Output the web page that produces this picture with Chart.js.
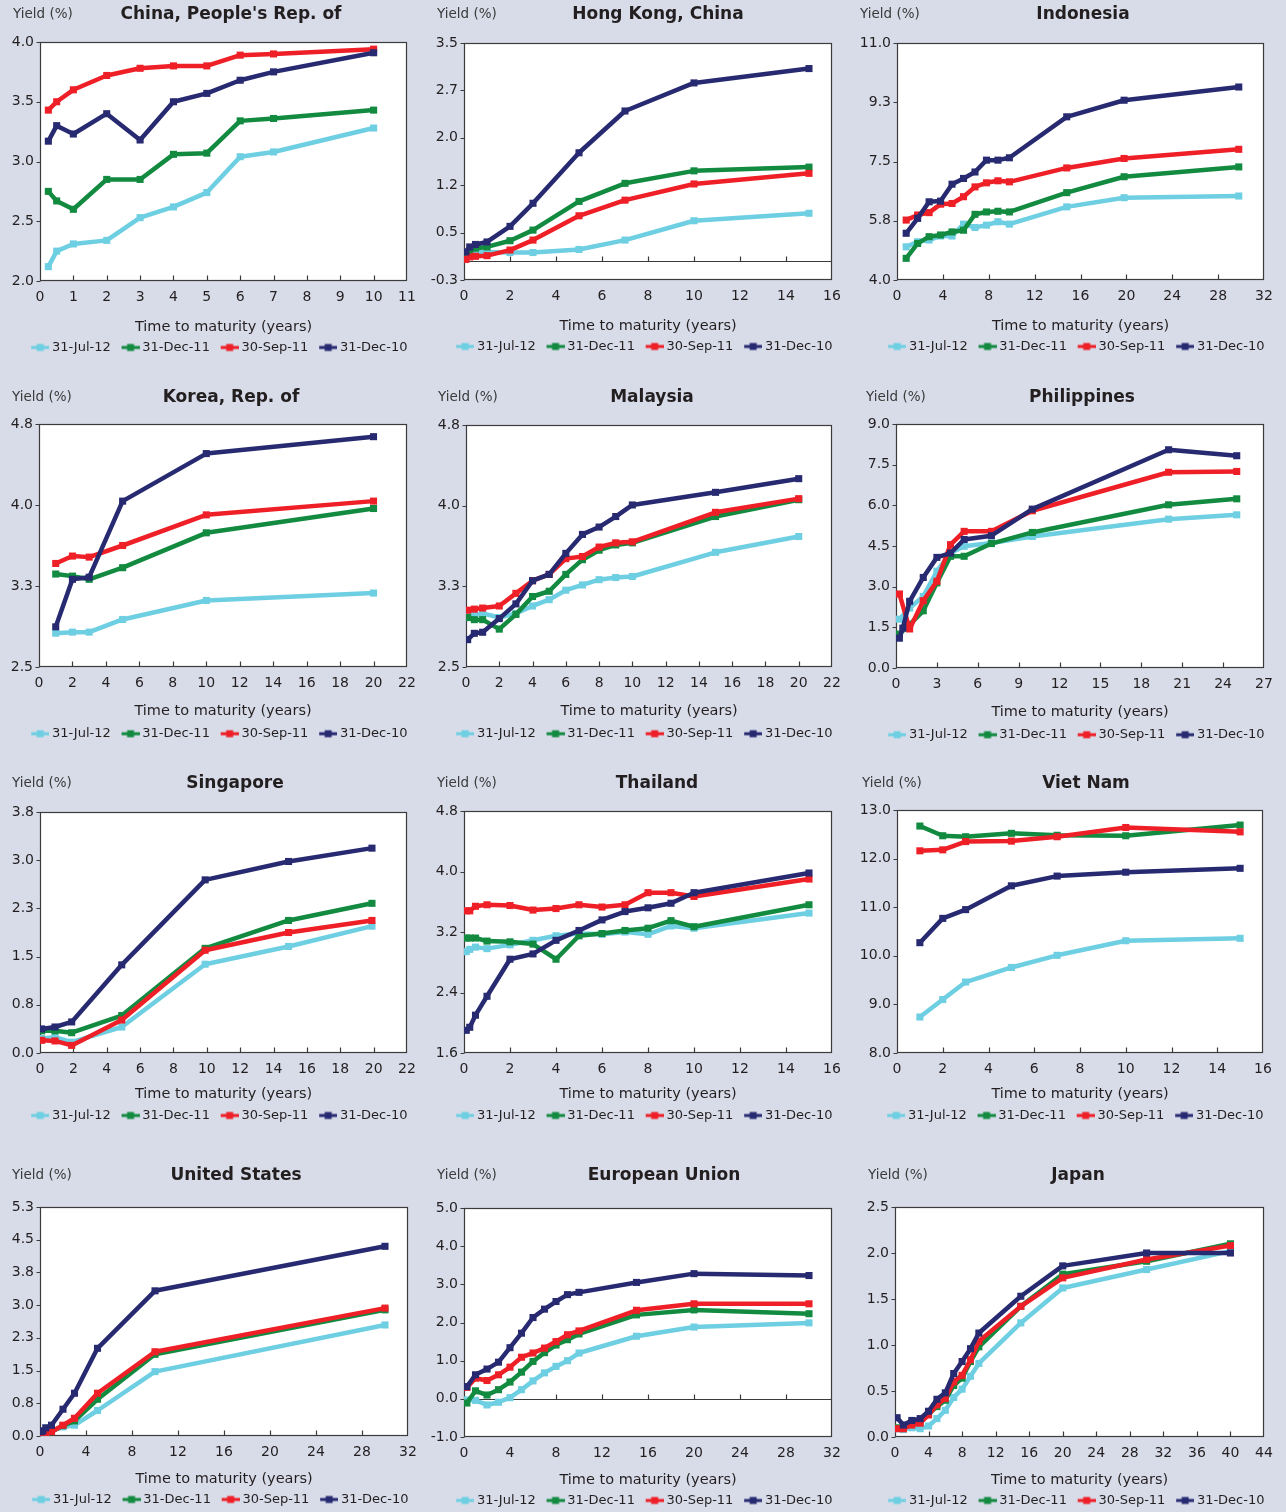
<!DOCTYPE html>
<html>
<head>
<meta charset="utf-8">
<title>Local currency government bond yield curves</title>
<script src="https://cdn.jsdelivr.net/npm/chart.js@4.4.0/dist/chart.umd.min.js"></script>
<style>
  html, body { margin: 0; padding: 0; background: #d8dce9; }
  body { width: 1286px; height: 1512px; position: relative; overflow: hidden; }
  canvas { position: absolute; }
</style>
</head>
<body>
<script>
// ---- Yield curve data (%), by time to maturity (years) ----
const SERIES_LABELS = ['31-Jul-12', '31-Dec-11', '30-Sep-11', '31-Dec-10'];

const chinaMaturity = [0.25, 0.5, 1, 2, 3, 4, 5, 6, 7, 10];
const chinaJul12 = [2.12, 2.25, 2.31, 2.34, 2.53, 2.62, 2.74, 3.04, 3.08, 3.28];
const chinaDec11 = [2.75, 2.67, 2.60, 2.85, 2.85, 3.06, 3.07, 3.34, 3.36, 3.43];
const chinaSep11 = [3.43, 3.50, 3.60, 3.72, 3.78, 3.80, 3.80, 3.89, 3.90, 3.94];
const chinaDec10 = [3.17, 3.30, 3.23, 3.40, 3.18, 3.50, 3.57, 3.68, 3.75, 3.91];

const hkMaturity = [0.08, 0.25, 0.5, 1, 2, 3, 5, 7, 10, 15];
const hkJul12 = [0.12, 0.14, 0.15, 0.15, 0.14, 0.14, 0.19, 0.34, 0.65, 0.77];
const hkDec11 = [0.13, 0.17, 0.21, 0.23, 0.33, 0.50, 0.96, 1.25, 1.45, 1.51];
const hkSep11 = [0.03, 0.07, 0.08, 0.09, 0.18, 0.34, 0.73, 0.98, 1.24, 1.41];
const hkDec10 = [0.15, 0.23, 0.27, 0.31, 0.56, 0.93, 1.74, 2.41, 2.86, 3.09];

const idMaturity = [0.8, 1.8, 2.8, 3.8, 4.8, 5.8, 6.8, 7.8, 8.8, 9.8, 14.8, 19.8, 29.8];
const idJul12 = [4.98, 5.13, 5.18, 5.30, 5.30, 5.65, 5.55, 5.62, 5.72, 5.65, 6.16, 6.43, 6.48];
const idDec11 = [4.64, 5.08, 5.28, 5.33, 5.42, 5.47, 5.94, 6.01, 6.03, 6.01, 6.58, 7.05, 7.34];
const idSep11 = [5.77, 5.92, 5.99, 6.24, 6.26, 6.46, 6.75, 6.87, 6.93, 6.90, 7.31, 7.59, 7.86];
const idDec10 = [5.38, 5.82, 6.31, 6.33, 6.83, 7.00, 7.19, 7.54, 7.54, 7.61, 8.82, 9.31, 9.70];

const krMaturity = [1, 2, 3, 5, 10, 20];
const krJul12 = [2.82, 2.83, 2.83, 2.95, 3.13, 3.20];
const krDec11 = [3.38, 3.36, 3.33, 3.44, 3.77, 4.00];
const krSep11 = [3.48, 3.55, 3.54, 3.65, 3.94, 4.07];
const krDec10 = [2.88, 3.33, 3.35, 4.07, 4.52, 4.68];

const myMaturity = [0.1, 0.5, 1, 2, 3, 4, 5, 6, 7, 8, 9, 10, 15, 20];
const myJul12 = [2.98, 2.99, 3.01, 2.97, 3.01, 3.08, 3.14, 3.23, 3.28, 3.33, 3.35, 3.36, 3.59, 3.74];
const myDec11 = [2.97, 2.95, 2.95, 2.86, 3.00, 3.17, 3.22, 3.38, 3.52, 3.61, 3.66, 3.68, 3.93, 4.09];
const mySep11 = [3.04, 3.05, 3.06, 3.08, 3.20, 3.32, 3.38, 3.53, 3.55, 3.64, 3.68, 3.69, 3.97, 4.10];
const myDec10 = [2.76, 2.82, 2.83, 2.96, 3.10, 3.32, 3.38, 3.58, 3.76, 3.83, 3.93, 4.04, 4.16, 4.29];

const phMaturity = [0.25, 0.5, 1, 2, 3, 4, 5, 7, 10, 20, 25];
const phJul12 = [1.80, null, 2.21, 2.64, 3.57, 4.24, 4.49, 4.61, 4.85, 5.49, 5.65];
const phDec11 = [1.25, null, 1.60, 2.11, 3.14, 4.12, 4.12, 4.59, 5.00, 6.02, 6.24];
const phSep11 = [2.73, null, 1.44, 2.48, 3.20, 4.55, 5.04, 5.04, 5.80, 7.22, 7.25];
const phDec10 = [1.10, 1.47, 2.46, 3.34, 4.08, 4.24, 4.74, 4.88, 5.86, 8.05, 7.83];

const sgMaturity = [0.1, 0.9, 1.9, 4.9, 9.9, 14.9, 19.9];
const sgJul12 = [0.23, 0.25, 0.17, 0.41, 1.40, 1.68, 2.00];
const sgDec11 = [0.35, 0.35, 0.32, 0.59, 1.65, 2.09, 2.36];
const sgSep11 = [0.20, 0.19, 0.12, 0.52, 1.62, 1.90, 2.09];
const sgDec10 = [0.38, 0.41, 0.49, 1.39, 2.73, 3.02, 3.23];

const thMaturity = [0.1, 0.25, 0.5, 1, 2, 3, 4, 5, 6, 7, 8, 9, 10, 15];
const thJul12 = [2.94, 2.97, 3.00, 2.98, 3.03, 3.09, 3.15, 3.18, 3.17, 3.20, 3.17, 3.28, 3.25, 3.45];
const thDec11 = [3.12, 3.12, 3.12, 3.08, 3.07, 3.04, 2.84, 3.15, 3.18, 3.22, 3.25, 3.35, 3.27, 3.56];
const thSep11 = [3.48, 3.48, 3.54, 3.56, 3.55, 3.49, 3.51, 3.56, 3.53, 3.56, 3.72, 3.72, 3.67, 3.90];
const thDec10 = [1.90, 1.94, 2.10, 2.35, 2.84, 2.91, 3.09, 3.22, 3.36, 3.47, 3.52, 3.58, 3.72, 3.98];

const vnMaturity = [1, 2, 3, 5, 7, 10, 15];
const vnJul12 = [8.74, 9.10, 9.46, 9.76, 10.01, 10.31, 10.36];
const vnDec11 = [12.67, 12.47, 12.45, 12.52, 12.48, 12.47, 12.69];
const vnSep11 = [12.16, 12.18, 12.35, 12.36, 12.45, 12.64, 12.55];
const vnDec10 = [10.27, 10.77, 10.95, 11.44, 11.64, 11.72, 11.80];

const usMaturity = [0.08, 0.25, 0.5, 1, 2, 3, 5, 10, 30];
const usJul12 = [0.02, 0.05, 0.08, 0.12, 0.21, 0.25, 0.59, 1.49, 2.57];
const usDec11 = [0.02, 0.02, 0.05, 0.10, 0.24, 0.35, 0.85, 1.89, 2.92];
const usSep11 = [0.00, 0.02, 0.05, 0.10, 0.25, 0.41, 0.99, 1.95, 2.96];
const usDec10 = [0.10, 0.12, 0.19, 0.25, 0.62, 0.99, 2.03, 3.36, 4.39];

const euMaturity = [0.25, 1, 2, 3, 4, 5, 6, 7, 8, 9, 10, 15, 20, 30];
const euJul12 = [-0.03, -0.04, -0.16, -0.09, 0.03, 0.24, 0.47, 0.68, 0.85, 1.00, 1.20, 1.64, 1.88, 1.99];
const euDec11 = [-0.11, 0.21, 0.10, 0.24, 0.44, 0.70, 0.98, 1.21, 1.41, 1.55, 1.70, 2.20, 2.33, 2.23];
const euSep11 = [0.30, 0.54, 0.48, 0.63, 0.83, 1.09, 1.20, 1.33, 1.50, 1.68, 1.78, 2.32, 2.49, 2.49];
const euDec10 = [0.32, 0.63, 0.78, 0.96, 1.34, 1.72, 2.13, 2.35, 2.55, 2.73, 2.79, 3.05, 3.28, 3.23];

const jpMaturity = [0.25, 1, 2, 3, 4, 5, 6, 7, 8, 9, 10, 15, 20, 30, 40];
const jpJul12 = [0.09, 0.08, 0.10, 0.09, 0.12, 0.20, 0.29, 0.43, 0.52, 0.66, 0.80, 1.24, 1.62, 1.82, 2.02];
const jpDec11 = [0.10, 0.11, 0.15, 0.17, 0.25, 0.33, 0.40, 0.56, 0.64, 0.82, 0.98, 1.42, 1.77, 1.91, 2.10];
const jpSep11 = [0.09, 0.09, 0.13, 0.15, 0.24, 0.35, 0.42, 0.60, 0.67, 0.84, 1.04, 1.42, 1.73, 1.93, 2.08];
const jpDec10 = [0.21, 0.13, 0.18, 0.20, 0.28, 0.41, 0.48, 0.69, 0.82, 0.96, 1.13, 1.53, 1.86, 2.00, 2.00];

// ---- Panels: title, data and axis ranges (y axis split into yDiv equal steps) ----
const PANELS = [
  { title: "China, People's Rep. of", x: chinaMaturity, ys: [chinaJul12, chinaDec11, chinaSep11, chinaDec10], xMax: 11, xStep: 1, yMin: 2, yMax: 4, yDiv: 4 },
  { title: 'Hong Kong, China', x: hkMaturity, ys: [hkJul12, hkDec11, hkSep11, hkDec10], xMax: 16, xStep: 2, yMin: -0.3, yMax: 3.5, yDiv: 5 },
  { title: 'Indonesia', x: idMaturity, ys: [idJul12, idDec11, idSep11, idDec10], xMax: 32, xStep: 4, yMin: 4, yMax: 11, yDiv: 4 },
  { title: 'Korea, Rep. of', x: krMaturity, ys: [krJul12, krDec11, krSep11, krDec10], xMax: 22, xStep: 2, yMin: 2.5, yMax: 4.8, yDiv: 3 },
  { title: 'Malaysia', x: myMaturity, ys: [myJul12, myDec11, mySep11, myDec10], xMax: 22, xStep: 2, yMin: 2.5, yMax: 4.8, yDiv: 3 },
  { title: 'Philippines', x: phMaturity, ys: [phJul12, phDec11, phSep11, phDec10], xMax: 27, xStep: 3, yMin: 0, yMax: 9, yDiv: 6 },
  { title: 'Singapore', x: sgMaturity, ys: [sgJul12, sgDec11, sgSep11, sgDec10], xMax: 22, xStep: 2, yMin: 0, yMax: 3.8, yDiv: 5 },
  { title: 'Thailand', x: thMaturity, ys: [thJul12, thDec11, thSep11, thDec10], xMax: 16, xStep: 2, yMin: 1.6, yMax: 4.8, yDiv: 4 },
  { title: 'Viet Nam', x: vnMaturity, ys: [vnJul12, vnDec11, vnSep11, vnDec10], xMax: 16, xStep: 2, yMin: 8, yMax: 13, yDiv: 5 },
  { title: 'United States', x: usMaturity, ys: [usJul12, usDec11, usSep11, usDec10], xMax: 32, xStep: 4, yMin: 0, yMax: 5.3, yDiv: 7 },
  { title: 'European Union', x: euMaturity, ys: [euJul12, euDec11, euSep11, euDec10], xMax: 32, xStep: 4, yMin: -1, yMax: 5, yDiv: 6 },
  { title: 'Japan', x: jpMaturity, ys: [jpJul12, jpDec11, jpSep11, jpDec10], xMax: 44, xStep: 4, yMin: 0, yMax: 2.5, yDiv: 5 }
];

// ---- Page layout (pixels) ----
const COLORS = ['#6dcfe1', '#128a40', '#ee1f26', '#272a70'];
const INK = '#231f20';
const FONT = "'DejaVu Sans', Verdana, sans-serif";
const COL_LEFT = [0, 428, 856];
const GUTTER = 11;                 // space right of each plot box
const LEGEND_PAD = 10.5, LEGEND_FONT = 13;
const LEGEND_H = LEGEND_FONT + LEGEND_PAD + 10;
// per row: canvas top, header centre y, offsets below plot bottom of the axis title and the legend row
const ROWS = [
  { top: 0,    headY: 14.5,   titleOff: 46,   legendOff: 66.5 },
  { top: 383,  headY: 397.5,  titleOff: 44.4, legendOff: 66.7 },
  { top: 770,  headY: 783.5,  titleOff: 41.2, legendOff: 62.5 },
  { top: 1160, headY: 1175.8, titleOff: 43,   legendOff: 63.5 }
];
// plot box [left, top, right, bottom], title centre x, "Yield (%)" x
const FRAMES = [
  [40, 42, 407, 281, 231, 13], [464, 43, 832, 280, 658, 437], [897, 43, 1264, 280, 1083, 860],
  [39, 424, 407, 667, 231, 12], [466, 425, 832, 667, 652, 438], [896, 424, 1264, 668, 1082, 866],
  [40, 812, 407, 1053, 235, 12], [464, 811, 832, 1053, 657, 437], [897, 810, 1263, 1053, 1086, 862],
  [40, 1207, 408, 1436, 236, 12], [464, 1208, 832, 1437, 664, 437], [895, 1207, 1264, 1437, 1078, 868]
];

Chart.defaults.font.family = FONT;
Chart.defaults.color = INK;

// Legend swatch: short line with a square marker
function legendMark(color) {
  const c = document.createElement('canvas');
  c.width = 22; c.height = 10;
  const g = c.getContext('2d');
  g.strokeStyle = color; g.lineWidth = 3;
  g.beginPath(); g.moveTo(4, 5); g.lineTo(22, 5); g.stroke();
  g.fillStyle = color; g.fillRect(9.5, 1.5, 7, 7);
  return c;
}
const MARKS = COLORS.map(legendMark);

// White plot area, frame, zero line, tick marks and panel headings
const framePlugin = {
  id: 'frame',
  beforeDraw(chart) {
    const a = chart.chartArea, ctx = chart.ctx;
    ctx.save();
    ctx.fillStyle = '#ffffff';
    ctx.fillRect(a.left, a.top, a.right - a.left, a.bottom - a.top);
    ctx.restore();
  },
  beforeDatasetsDraw(chart) {
    const a = chart.chartArea, ctx = chart.ctx;
    const xs = chart.scales.x, ys = chart.scales.y;
    const L = Math.round(a.left) + 0.5, R = Math.round(a.right) - 0.5;
    const T = Math.round(a.top) + 0.5, B = Math.round(a.bottom) - 0.5;
    ctx.save();
    ctx.strokeStyle = '#3b3b3b';
    ctx.lineWidth = 1.2;
    ctx.strokeRect(L, T, R - L, B - T);
    let base = B;
    if (ys.min < 0) {
      base = Math.round(ys.getPixelForValue(0)) + 0.5;
      ctx.beginPath(); ctx.moveTo(L, base); ctx.lineTo(R, base); ctx.stroke();
    }
    ctx.beginPath();
    xs.ticks.forEach(t => {
      if (t.value <= xs.min || t.value >= xs.max) return;
      const px = Math.round(xs.getPixelForValue(t.value)) + 0.5;
      ctx.moveTo(px, base); ctx.lineTo(px, base - 5);
    });
    ys.ticks.forEach(t => {
      const py = Math.round(ys.getPixelForValue(t.value)) + 0.5;
      ctx.moveTo(L, py); ctx.lineTo(L - 4, py);
    });
    ctx.stroke();
    ctx.restore();
  },
  afterDraw(chart, args, opts) {
    const ctx = chart.ctx;
    ctx.save();
    ctx.fillStyle = INK;
    ctx.textBaseline = 'middle';
    ctx.textAlign = 'center';
    ctx.font = 'bold 17px ' + FONT;
    ctx.fillText(opts.title, opts.titleX, opts.headY);
    ctx.textAlign = 'left';
    ctx.fillStyle = '#3a3a3a';
    ctx.font = '13.5px ' + FONT;
    ctx.fillText('Yield (%)', opts.yieldX, opts.headY);
    ctx.restore();
  }
};

PANELS.forEach((p, i) => {
  const row = ROWS[Math.floor(i / 3)];
  const [L, T, R, B, titleX, yieldX] = FRAMES[i];
  const left = COL_LEFT[i % 3], top = row.top;
  const xBand = row.legendOff - LEGEND_PAD - LEGEND_FONT / 2;   // x-axis band height
  const titlePad = xBand - row.titleOff;
  const width = R + GUTTER - left;
  const used = B - top + xBand + LEGEND_H;
  const height = Math.ceil(used);

  const canvas = document.createElement('canvas');
  canvas.width = width; canvas.height = height;
  canvas.style.left = left + 'px'; canvas.style.top = top + 'px';
  canvas.style.width = width + 'px'; canvas.style.height = height + 'px';
  document.body.appendChild(canvas);

  const datasets = p.ys.map((vals, k) => ({
    label: SERIES_LABELS[k],
    data: p.x.map((m, j) => ({ x: m, y: vals[j] })),
    borderColor: COLORS[k],
    backgroundColor: COLORS[k],
    borderWidth: 4.5,
    borderJoinStyle: 'round',
    pointStyle: 'rect',
    pointRadius: 5,
    pointBorderWidth: 0,
    pointBackgroundColor: COLORS[k],
    spanGaps: true,
    tension: 0,
    order: 3 - k
  }));

  new Chart(canvas, {
    type: 'line',
    data: { datasets },
    plugins: [framePlugin],
    options: {
      responsive: false,
      animation: false,
      events: [],
      devicePixelRatio: 1,
      layout: { padding: { top: T - top, left: 0, right: 0, bottom: height - used } },
      scales: {
        x: {
          type: 'linear', min: 0, max: p.xMax,
          grid: { display: false, drawTicks: true, tickLength: 8 },
          border: { display: false },
          ticks: { stepSize: p.xStep, autoSkip: false, maxRotation: 0, padding: 0, color: INK, font: { size: 14 } },
          title: { display: true, text: 'Time to maturity (years)', color: INK,
                   font: { size: 14.5, lineHeight: 0 }, padding: { top: 0, bottom: titlePad } },
          afterFit(s) { s.height = xBand; }
        },
        y: {
          type: 'linear', min: p.yMin, max: p.yMax,
          grid: { display: false, drawTicks: false },
          border: { display: false },
          ticks: { padding: 6, color: INK, font: { size: 14 }, callback: v => v.toFixed(1) },
          afterBuildTicks(s) {
            s.ticks = Array.from({ length: p.yDiv + 1 }, (_, k) => ({ value: p.yMin + k * (p.yMax - p.yMin) / p.yDiv }));
          },
          afterFit(s) { s.width = L - left; }
        },
        gutter: {
          type: 'linear', position: 'right', display: true,
          grid: { display: false, drawTicks: false },
          border: { display: false },
          ticks: { display: false },
          afterFit(s) { s.width = GUTTER; }
        }
      },
      plugins: {
        frame: { title: p.title, titleX: titleX - left, yieldX: yieldX - left, headY: row.headY - top },
        tooltip: { enabled: false },
        legend: {
          position: 'bottom',
          align: 'end',
          labels: {
            usePointStyle: true,
            pointStyleWidth: 14.5,
            boxHeight: LEGEND_FONT,
            padding: LEGEND_PAD,
            color: INK,
            font: { size: LEGEND_FONT },
            generateLabels(chart) {
              return chart.data.datasets.map((ds, k) => ({
                text: ds.label,
                pointStyle: MARKS[k],
                fillStyle: ds.borderColor,
                strokeStyle: ds.borderColor,
                lineWidth: 0,
                fontColor: INK,
                hidden: false,
                datasetIndex: k
              }));
            }
          }
        }
      }
    }
  });
});
</script>
</body>
</html>
